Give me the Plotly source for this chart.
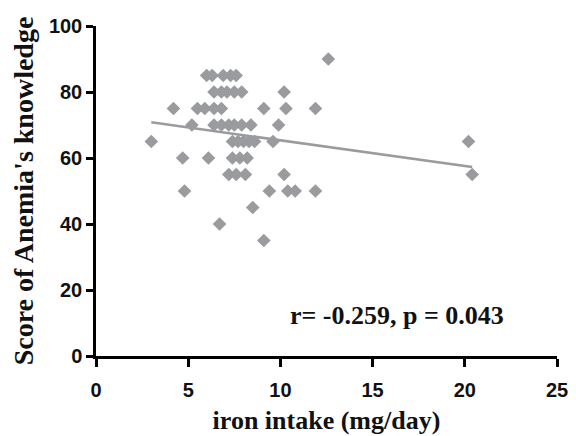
import plotly.graph_objects as go

# iron intake (mg/day) and knowledge score, read row by row
iron_intake = [
    12.6,
    6.0, 6.3, 6.9, 7.3, 7.6,
    6.4, 6.8, 7.1, 7.5, 7.9, 10.2,
    4.2, 5.5, 5.9, 6.4, 6.8, 9.1, 10.3, 11.9,
    5.2, 6.4, 6.8, 7.2, 7.5, 7.9, 8.4, 9.9,
    3.0, 7.4, 7.7, 8.0, 8.3, 8.6, 9.6, 20.2,
    4.7, 6.1, 7.4, 7.8, 8.2,
    7.2, 7.6, 8.1, 10.2, 20.4,
    4.8, 9.4, 10.4, 10.8, 11.9,
    8.5,
    6.7,
    9.1,
]
knowledge_score = [
    90,
    85, 85, 85, 85, 85,
    80, 80, 80, 80, 80, 80,
    75, 75, 75, 75, 75, 75, 75, 75,
    70, 70, 70, 70, 70, 70, 70, 70,
    65, 65, 65, 65, 65, 65, 65, 65,
    60, 60, 60, 60, 60,
    55, 55, 55, 55, 55,
    50, 50, 50, 50, 50,
    45,
    40,
    35,
]

# regression line endpoints
fit_x = [3.0, 20.4]
fit_y = [70.8, 57.3]

x_ticks = [0, 5, 10, 15, 20, 25]
y_ticks = [0, 20, 40, 60, 80, 100]

stat_text = "r= -0.259, p = 0.043"

gray = "#9a9b9f"
serif = "Liberation Serif, Times New Roman, serif"
sans = "Liberation Sans, Arial, sans-serif"

fig = go.Figure()
fig.add_trace(go.Scatter(
    x=fit_x, y=fit_y, mode="lines",
    line=dict(color=gray, width=2.5), showlegend=False, hoverinfo="skip",
))
fig.add_trace(go.Scatter(
    x=iron_intake, y=knowledge_score, mode="markers",
    marker=dict(symbol="diamond", size=10.5, color=gray, line=dict(width=0)),
    showlegend=False,
))

fig.add_annotation(
    x=16.3, y=12.4, xref="x", yref="y", text="<b>" + stat_text + "</b>",
    showarrow=False, xanchor="center", yanchor="middle",
    font=dict(family=serif, size=26, color="#111111"),
)

# the page body adds an 8px margin, so the figure is 8px smaller on each axis
fig.update_layout(
    width=568, height=428,
    margin=dict(l=88, r=19, t=18, b=80),
    paper_bgcolor="white", plot_bgcolor="white",
    xaxis=dict(
        range=[0, 25], tickvals=x_ticks, ticktext=[str(v) for v in x_ticks],
        automargin=False,
        showgrid=False, zeroline=False, showline=True, linecolor="black", linewidth=2.5,
        ticks="outside", ticklen=8, tickwidth=2.5, tickcolor="black",
        ticklabelstandoff=6,
        tickfont=dict(family=sans, size=20, color="#111111", weight="bold"),
        title=dict(text="<b>iron intake (mg/day)</b>", standoff=12,
                   font=dict(family=serif, size=26, color="#111111")),
    ),
    yaxis=dict(
        range=[0, 100], tickvals=y_ticks, ticktext=[str(v) for v in y_ticks],
        automargin=False,
        showgrid=False, zeroline=False, showline=True, linecolor="black", linewidth=2.5,
        ticks="outside", ticklen=7, tickwidth=2.5, tickcolor="black",
        tickfont=dict(family=sans, size=20, color="#111111", weight="bold"),
        title=dict(text="<b>Score of Anemia's knowledge</b>", standoff=10,
                   font=dict(family=serif, size=28, color="#111111")),
    ),
)

fig.write_html("out.html")
